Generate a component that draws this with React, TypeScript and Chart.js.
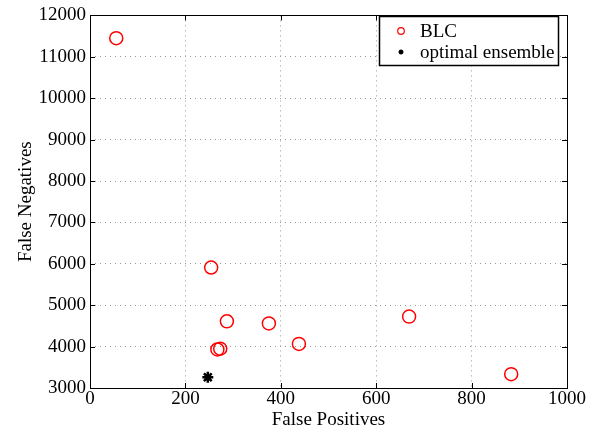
import React, { useEffect, useRef } from "react";
import { Chart, registerables } from "chart.js";

Chart.register(...registerables);

const blcFP = [55, 254, 287, 375, 438, 267, 273, 669, 883];
const blcFN = [11450, 5910, 4610, 4560, 4065, 3930, 3950, 4725, 3335];
const optFP = [247];
const optFN = [3260];
const xTicks = [0, 200, 400, 600, 800, 1000];
const yTicks = [3000, 4000, 5000, 6000, 7000, 8000, 9000, 10000, 11000, 12000];
const seriesLabels = ["BLC", "optimal ensemble"];

const FONT = "'Liberation Serif', 'Times New Roman', serif";

const framePlugin = {
  id: "frame",
  afterDatasetsDraw(chart: any) {
    const { ctx, chartArea: a, scales } = chart;
    ctx.save();
    ctx.strokeStyle = "#000";
    ctx.lineWidth = 1;
    const L = 5;
    scales.x.ticks.forEach((_t: any, i: number) => {
      const px = Math.round(scales.x.getPixelForTick(i)) + 0.5;
      ctx.beginPath();
      ctx.moveTo(px, a.bottom);
      ctx.lineTo(px, a.bottom - L);
      ctx.moveTo(px, a.top);
      ctx.lineTo(px, a.top + L);
      ctx.stroke();
    });
    scales.y.ticks.forEach((_t: any, i: number) => {
      const py = Math.round(scales.y.getPixelForTick(i)) + 0.5;
      ctx.beginPath();
      ctx.moveTo(a.left, py);
      ctx.lineTo(a.left + L, py);
      ctx.moveTo(a.right, py);
      ctx.lineTo(a.right - L, py);
      ctx.stroke();
    });
    ctx.strokeRect(Math.round(a.left) + 0.5, Math.round(a.top) + 0.5, Math.round(a.right - a.left), Math.round(a.bottom - a.top));

    // legend
    const lx = 379.5, ly = 16.5, lw = 179, lh = 49;
    ctx.fillStyle = "#fff";
    ctx.fillRect(lx, ly, lw, lh);
    ctx.lineWidth = 1.5;
    ctx.strokeRect(lx, ly, lw, lh);
    ctx.font = `19px ${FONT}`;
    ctx.fillStyle = "#000";
    ctx.textBaseline = "middle";
    ctx.textAlign = "left";
    ctx.fillText(seriesLabels[0], 420, 32);
    ctx.fillText(seriesLabels[1], 420, 53);
    ctx.strokeStyle = "red";
    ctx.lineWidth = 1.2;
    ctx.beginPath();
    ctx.arc(401, 31, 3.3, 0, Math.PI * 2);
    ctx.stroke();
    ctx.strokeStyle = "#000";
    ctx.lineWidth = 1.5;
    const sx = 401, sy = 52, r = 2.5;
    ctx.beginPath();
    ctx.moveTo(sx - r, sy); ctx.lineTo(sx + r, sy);
    ctx.moveTo(sx, sy - r); ctx.lineTo(sx, sy + r);
    ctx.moveTo(sx - r * 0.7, sy - r * 0.7); ctx.lineTo(sx + r * 0.7, sy + r * 0.7);
    ctx.moveTo(sx - r * 0.7, sy + r * 0.7); ctx.lineTo(sx + r * 0.7, sy - r * 0.7);
    ctx.stroke();
    ctx.restore();
  },
};

export default function App() {
  const ref = useRef<HTMLCanvasElement>(null);
  useEffect(() => {
    document.body.style.margin = "0";
    const chart = new Chart(ref.current!, {
      type: "scatter",
      data: {
        datasets: [
          {
            label: seriesLabels[0],
            data: blcFP.map((x, i) => ({ x, y: blcFN[i] })),
            pointStyle: "circle",
            pointRadius: 6.5,
            borderColor: "red",
            backgroundColor: "rgba(0,0,0,0)",
            borderWidth: 1.5,
          },
          {
            label: seriesLabels[1],
            data: optFP.map((x, i) => ({ x, y: optFN[i] })),
            pointStyle: "star",
            pointRadius: 5.5,
            borderColor: "#000",
            backgroundColor: "#000",
            borderWidth: 2.5,
          },
        ],
      },
      plugins: [framePlugin],
      options: {
        animation: false,
        responsive: false,
        devicePixelRatio: 1,
        layout: { padding: { left: 15, right: 30, top: 13, bottom: 0 } },
        plugins: { legend: { display: false }, tooltip: { enabled: false } },
        scales: {
          x: {
            type: "linear",
            min: 0,
            max: 1000,
            afterBuildTicks(s: any) { s.ticks = xTicks.map((v) => ({ value: v })); },
            afterFit(s: any) { s.height = 43; },
            grid: { color: "#999", lineWidth: 1, drawTicks: false, tickLength: 0 },
            border: { display: false, dash: [1, 4] },
            ticks: { color: "#000", font: { family: FONT, size: 19 }, padding: 0, maxRotation: 0, callback: (v: any) => String(v) },
            title: { display: true, text: "False Positives", color: "#000", font: { family: FONT, size: 19 }, padding: { top: -5, bottom: 0 } },
          },
          y: {
            type: "linear",
            min: 3000,
            max: 12000,
            afterBuildTicks(s: any) { s.ticks = yTicks.map((v) => ({ value: v })); },
            afterFit(s: any) { s.width = 75; },
            grid: { color: "#999", lineWidth: 1, drawTicks: false, tickLength: 0 },
            border: { display: false, dash: [1, 4] },
            ticks: { color: "#000", font: { family: FONT, size: 19 }, padding: 4, callback: (v: any) => String(v) },
            title: { display: true, text: "False Negatives", color: "#000", font: { family: FONT, size: 19 }, padding: { top: 0, bottom: 0 } },
          },
        },
      },
    } as any);
    return () => chart.destroy();
  }, []);
  return (
    <div style={{ position: "absolute", left: 0, top: 0, width: 597, height: 431, background: "#fff" }}>
      <canvas ref={ref} width={597} height={431} style={{ display: "block", width: 597, height: 431 }} />
    </div>
  );
}
